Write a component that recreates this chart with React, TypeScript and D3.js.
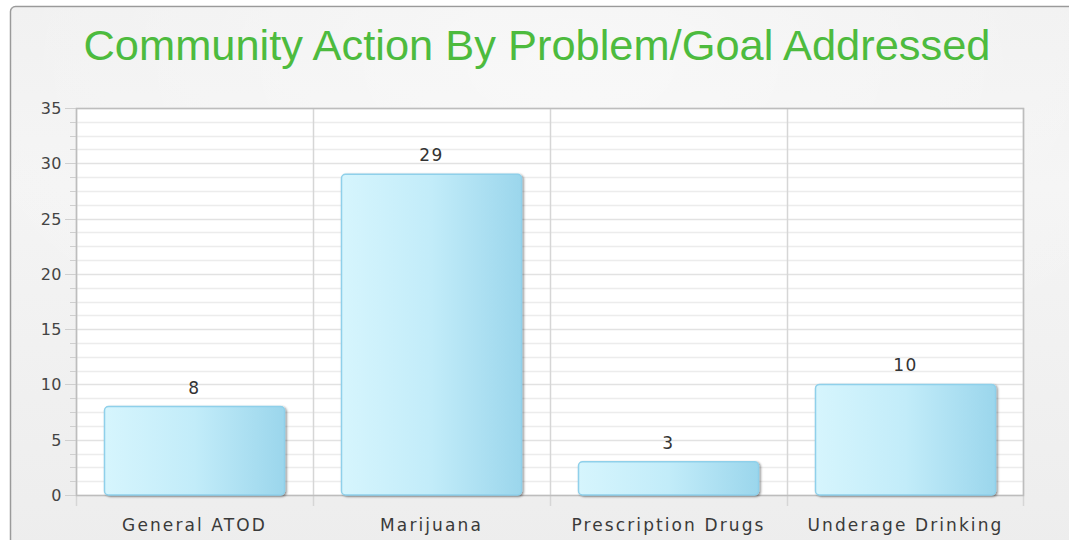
import * as d3 from "d3";

const categories = ["General ATOD", "Marijuana", "Prescription Drugs", "Underage Drinking"];
const values = [8, 29, 3, 10];
const yTicks = [0, 5, 10, 15, 20, 25, 30, 35];
const title = "Community Action By Problem/Goal Addressed";

const W = 1069;
const H = 540;
const plot = { left: 76, right: 1024, top: 108, bottom: 495 };

export default function App() {
  const x = d3
    .scaleBand<string>()
    .domain(categories)
    .range([plot.left, plot.right])
    .paddingInner(0);
  const y = d3.scaleLinear().domain([0, 35]).range([plot.bottom, plot.top]);

  // minor grid every 1.25 units (4 per major step)
  const minor = d3.range(0, 35.01, 1.25);
  const barW = 180;
  const tickFont = "Tahoma, 'DejaVu Sans', Verdana, sans-serif";

  return (
    <svg
      width={W}
      height={H}
      style={{ position: "absolute", left: 0, top: 0 }}
    >
      <defs>
        <linearGradient id="panelBg" x1="0" y1="0" x2="0" y2="1">
          <stop offset="0" stopColor="#f0f0f0" />
          <stop offset="0.3" stopColor="#f4f4f4" />
          <stop offset="1" stopColor="#ececec" />
        </linearGradient>
        <radialGradient id="panelGlow" cx="0.5" cy="0.1" r="0.6">
          <stop offset="0" stopColor="#ffffff" stopOpacity="0.5" />
          <stop offset="1" stopColor="#ffffff" stopOpacity="0" />
        </radialGradient>
        <linearGradient id="barFill" x1="0" y1="0" x2="1" y2="0">
          <stop offset="0" stopColor="#d6f5fd" />
          <stop offset="0.5" stopColor="#c2ecf9" />
          <stop offset="1" stopColor="#9bd6ec" />
        </linearGradient>
        <filter id="shadow" x="-10%" y="-10%" width="130%" height="130%">
          <feDropShadow dx="1.5" dy="1" stdDeviation="1" floodColor="#000" floodOpacity="0.45" />
        </filter>
      </defs>

      <rect x={0} y={0} width={W} height={H} fill="#ffffff" />
      <rect
        x={10.5}
        y={6.5}
        width={1120}
        height={600}
        rx={5}
        fill="url(#panelBg)"
        stroke="#9a9a9a"
        strokeWidth={1.5}
      />
      <rect x={11} y={7} width={1120} height={600} fill="url(#panelGlow)" />

      <text
        x={537}
        y={60}
        textAnchor="middle"
        fill="#4dbb3e"
        fontFamily="'Liberation Sans', Arial, sans-serif"
        fontSize={42}
        textLength={907}
        lengthAdjust="spacingAndGlyphs"
      >
        {title}
      </text>

      {/* plot background */}
      <rect
        x={plot.left}
        y={plot.top}
        width={plot.right - plot.left}
        height={plot.bottom - plot.top}
        fill="#ffffff"
      />

      {/* minor horizontal grid */}
      {minor.map((v) => (
        <g key={"m" + v}>
          <line
            x1={plot.left}
            x2={plot.right}
            y1={Math.round(y(v)) + 0.5}
            y2={Math.round(y(v)) + 0.5}
            stroke={v % 5 === 0 ? "#e2e2e2" : "#ececec"}
            strokeWidth={1.5}
          />
          <line
            x1={v % 5 === 0 ? 65 : 70}
            x2={plot.left}
            y1={Math.round(y(v)) + 0.5}
            y2={Math.round(y(v)) + 0.5}
            stroke="#cfcfcf"
          />
        </g>
      ))}

      {/* vertical category dividers */}
      {categories.map((c) => (
        <line
          key={"v" + c}
          x1={Math.round(x(c)!) + 0.5}
          x2={Math.round(x(c)!) + 0.5}
          y1={plot.top}
          y2={plot.bottom + 11}
          stroke="#d6d6d6"
          strokeWidth={1.5}
        />
      ))}
      <line
        x1={plot.right - 0.5}
        x2={plot.right - 0.5}
        y1={plot.top}
        y2={plot.bottom + 11}
        stroke="#d6d6d6"
        strokeWidth={1.5}
      />

      {/* plot border */}
      <rect
        x={plot.left + 0.5}
        y={plot.top + 0.5}
        width={plot.right - plot.left - 1}
        height={plot.bottom - plot.top}
        fill="none"
        stroke="#bdbdbd"
        strokeWidth={1.5}
      />

      {/* y tick labels */}
      {yTicks.map((t) => (
        <text
          key={"t" + t}
          x={62}
          y={y(t) + 6}
          textAnchor="end"
          fontFamily={tickFont}
          fontSize={16}
          letterSpacing={0.5}
          fill="#444"
        >
          {t}
        </text>
      ))}

      {/* bars */}
      {categories.map((c, i) => {
        const cx = x(c)! + x.bandwidth() / 2;
        const top = y(values[i]);
        return (
          <g key={"b" + c}>
            <rect
              x={cx - barW / 2}
              y={top}
              width={barW}
              height={plot.bottom - top}
              rx={4}
              fill="url(#barFill)"
              stroke="#8fd0ea"
              strokeWidth={1.5}
              filter="url(#shadow)"
            />
            <text
              x={cx}
              y={top - 13}
              textAnchor="middle"
              fontFamily={tickFont}
              fontSize={17}
              letterSpacing={1.5}
              fill="#333"
            >
              {values[i]}
            </text>
            <text
              x={cx}
              y={531}
              textAnchor="middle"
              fontFamily={tickFont}
              fontSize={17}
              letterSpacing={2.1}
              fill="#3a3a3a"
            >
              {c}
            </text>
          </g>
        );
      })}
    </svg>
  );
}
